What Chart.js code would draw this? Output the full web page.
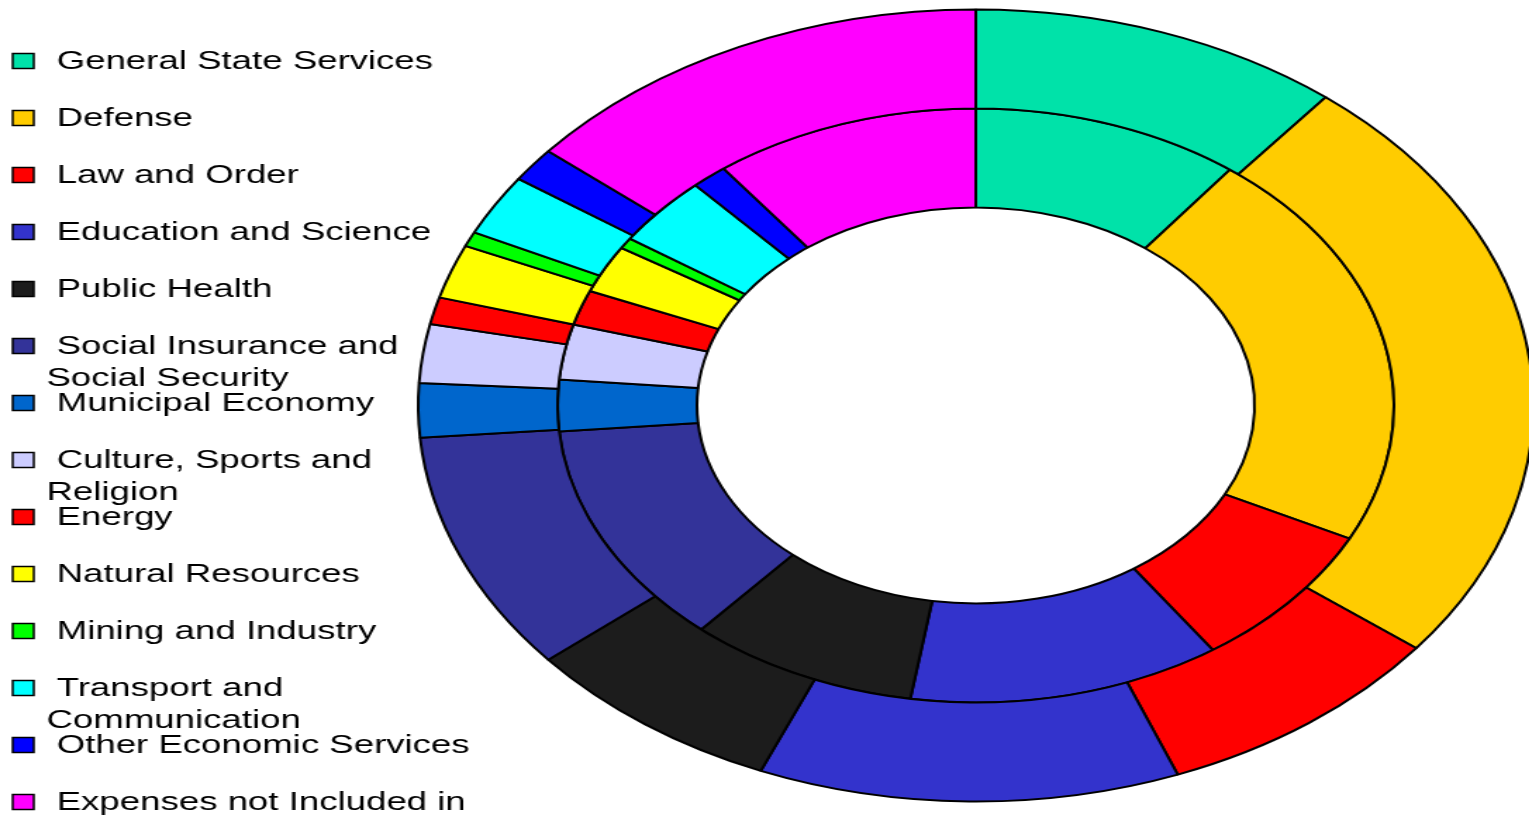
<!DOCTYPE html>
<html>
<head>
<meta charset="utf-8">
<title>Budget expenditure by function</title>
<script src="https://cdn.jsdelivr.net/npm/chart.js@4.4.1/dist/chart.umd.min.js"></script>
<style>
  html, body { margin: 0; padding: 0; background: #fff; overflow: hidden; }
  /* the chart is drawn round and then stretched sideways into an oval */
  #wrap { position: absolute; left: 0; top: 0; width: 1086px; height: 819px;
          transform: scaleX(1.408); transform-origin: 0 0; }
</style>
</head>
<body>
<div id="wrap"><canvas id="chart" width="1086" height="819"></canvas></div>
<script>
// budget functions, clockwise from 12 o'clock
const categories = [
  "General State Services",
  "Defense",
  "Law and Order",
  "Education and Science",
  "Public Health",
  "Social Insurance and Social Security",
  "Municipal Economy",
  "Culture, Sports and Religion",
  "Energy",
  "Natural Resources",
  "Mining and Industry",
  "Transport and Communication",
  "Other Economic Services",
  "Expenses not Included in Other Groups"
];

const colors = [
  "#00E2A9", "#FFCC00", "#FF0000", "#3333CC", "#1C1C1C", "#333399", "#0066CC",
  "#CCCCFF", "#FF0000", "#FFFF00", "#00FF00", "#00FFFF", "#0000FF", "#FF00FF"
];

// share of total spending, %
const outerShare = [10.8, 24.7, 8.6, 12.2, 7.6, 9.8, 2.2, 2.4, 1.1, 2.2, 0.6, 2.5, 1.4, 13.9];
const innerShare = [10.4, 22.0, 8.0, 12.1, 8.9, 12.2, 2.8, 3.0, 1.9, 2.6, 0.6, 3.8, 1.4, 10.3];

// break a legend label into lines; the first line starts with a blank
function wrapLabel(ctx, label, maxWidth) {
  const lines = [];
  let line = ' ';
  for (const word of label.split(' ')) {
    const test = line.trim() ? line + ' ' + word : line + word;
    if (ctx.measureText(test).width > maxWidth && line.trim()) {
      lines.push(line);
      line = word;
    } else {
      line = test;
    }
  }
  lines.push(line);
  return lines;
}

// legend down the left side
const sideLegend = {
  id: 'sideLegend',
  afterDraw(chart) {
    const ctx = chart.ctx;
    ctx.save();
    ctx.font = '26px "Liberation Sans", Arial, sans-serif';
    ctx.textBaseline = 'alphabetic';
    ctx.lineWidth = 1.5;
    ctx.strokeStyle = '#000';
    categories.forEach((name, i) => {
      const y = 61 + i * 57;
      ctx.fillStyle = colors[i];
      ctx.fillRect(9, y - 7.5, 15, 15);
      ctx.strokeRect(9, y - 7.5, 15, 15);
      ctx.fillStyle = '#000';
      wrapLabel(ctx, name, 316).forEach((line, j) => {
        ctx.fillText(line, 33, y + 8 + j * 32);
      });
    });
    ctx.restore();
  }
};

const ctx = document.getElementById("chart").getContext("2d");
new Chart(ctx, {
  type: "doughnut",
  data: {
    labels: categories,
    datasets: [
      {
        label: "Outer",
        data: outerShare,
        backgroundColor: colors,
        borderColor: "#000",
        borderWidth: 2,
      },
      {
        label: "Inner",
        data: innerShare,
        backgroundColor: colors,
        borderColor: "#000",
        borderWidth: 2,
      },
    ],
  },
  options: {
    responsive: false,
    animation: false,
    devicePixelRatio: 1,
    events: [],
    cutout: "50%",
    radius: 396,
    layout: {
      padding: { left: 300, right: 0, top: 8, bottom: 16 },
    },
    plugins: {
      legend: { display: false },
      tooltip: { enabled: false },
    },
  },
  plugins: [sideLegend],
});
</script>
</body>
</html>
